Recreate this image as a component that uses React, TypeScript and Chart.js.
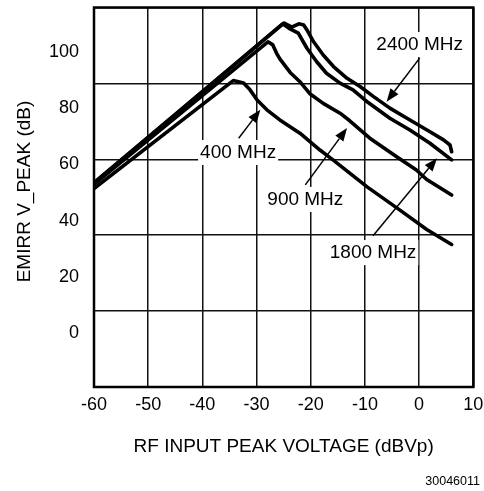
import React, { useEffect, useRef } from 'react';
import { Chart, registerables } from 'chart.js';

Chart.register(...registerables);

const FONT = "'Liberation Sans', Arial, Helvetica, sans-serif";

// ---- axes ----
const xMin = -60;
const xMax = 10;
const xStep = 10;
const yMin = -19.2;
const yMax = 115.8;
const yTickValues = [0, 20, 40, 60, 80, 100];
const gridDivisions = 5;

const xTitle = 'RF INPUT PEAK VOLTAGE (dBVp)';
const yTitle = 'EMIRR V_PEAK (dB)';
const footnote = '30046011';

// ---- series ----
const s400X = [-60, -34.3, -32.4, -31.2, -29.9, -28.1, -25.7, -22.0, -18.3, -15.9, -9.6, -3.6, 1.4, 6.0];
const s400Y = [51.4, 89.8, 88.9, 86.5, 82.9, 79.4, 75.8, 71.1, 65.1, 61.6, 52.0, 43.8, 36.8, 31.5];

const s900X = [-60, -27.9, -27.0, -26.3, -25.7, -23.8, -22.0, -20.1, -17.7, -14.6, -12.8, -9.1, -3.6, -0.5, 1.4, 6.0];
const s900Y = [52.9, 103.6, 102.5, 99.5, 97.5, 92.7, 89.4, 85.0, 81.7, 78.2, 75.5, 69.3, 62.0, 58.0, 54.6, 49.1];

const s1800X = [-60, -25.2, -24.0, -22.3, -20.7, -18.9, -17.1, -14.6, -12.2, -9.4, -5.4, -1.7, 2.0, 6.0];
const s1800Y = [53.2, 110.0, 108.4, 106.7, 101.3, 96.5, 92.4, 88.9, 86.5, 82.0, 76.4, 72.2, 67.5, 61.6];

const s2400X = [-60, -24.9, -23.5, -22.2, -21.3, -20.7, -19.5, -17.7, -15.8, -13.3, -10.9, -8.4, -5.4, -1.7, 2.0, 4.5, 5.7, 6.0];
const s2400Y = [53.5, 110.3, 108.8, 110.0, 109.6, 107.8, 103.7, 98.9, 94.8, 90.6, 87.7, 84.1, 80.0, 75.8, 71.6, 68.7, 66.9, 64.5];

// ---- annotations (data units) ----
const annText = ['2400 MHz', '400 MHz', '900 MHz', '1800 MHz'];
const annTextX = [0.1, -33.4, -21.0, -8.5];
const annTextY = [102.8, 64.4, 47.7, 28.8];
const arrowTailX = [0.1, -33.3, -21.0, -8.5];
const arrowTailY = [97.8, 69.3, 52.7, 34.6];
const arrowHeadX = [-6.0, -29.3, -13.3, 3.3];
const arrowHeadY = [82.3, 79.4, 72.9, 62.2];

const toPoints = (xs: number[], ys: number[]) => xs.map((x, i) => ({ x, y: ys[i] }));

const overlayPlugin = {
  id: 'overlay',
  afterDatasetsDraw(chart: any) {
    const { ctx, chartArea: a, scales } = chart;
    const sx = scales.x;
    const sy = scales.y;
    ctx.save();
    // frame
    ctx.strokeStyle = '#000';
    ctx.lineWidth = 2.5;
    ctx.strokeRect(a.left, a.top, a.right - a.left, a.bottom - a.top);

    // arrows
    ctx.lineWidth = 1.5;
    ctx.fillStyle = '#000';
    for (let i = 0; i < annText.length; i++) {
      const x0 = sx.getPixelForValue(arrowTailX[i]);
      const y0 = sy.getPixelForValue(arrowTailY[i]);
      const x1 = sx.getPixelForValue(arrowHeadX[i]);
      const y1 = sy.getPixelForValue(arrowHeadY[i]);
      const ang = Math.atan2(y1 - y0, x1 - x0);
      const len = 13;
      const hw = 5;
      const bx = x1 - len * Math.cos(ang);
      const by = y1 - len * Math.sin(ang);
      ctx.beginPath();
      ctx.moveTo(x0, y0);
      ctx.lineTo(bx, by);
      ctx.stroke();
      ctx.beginPath();
      ctx.moveTo(x1, y1);
      ctx.lineTo(bx + hw * Math.sin(ang), by - hw * Math.cos(ang));
      ctx.lineTo(bx - hw * Math.sin(ang), by + hw * Math.cos(ang));
      ctx.closePath();
      ctx.fill();
    }

    // labels with white backing
    ctx.font = `19px ${FONT}`;
    ctx.textAlign = 'center';
    ctx.textBaseline = 'middle';
    for (let i = 0; i < annText.length; i++) {
      const cx = sx.getPixelForValue(annTextX[i]);
      const cy = sy.getPixelForValue(annTextY[i]);
      const w = ctx.measureText(annText[i]).width;
      ctx.fillStyle = '#fff';
      ctx.fillRect(cx - w / 2 - 2, cy - 12, w + 4, 25);
      ctx.fillStyle = '#000';
      ctx.fillText(annText[i], cx, cy + 1);
    }

    // y title
    ctx.save();
    ctx.translate(25, 191.5);
    ctx.rotate(-Math.PI / 2);
    ctx.fillText(yTitle, 0, 0);
    ctx.restore();

    // footnote
    ctx.font = `12.5px ${FONT}`;
    ctx.textAlign = 'right';
    ctx.fillText(footnote, 480, 482);
    ctx.restore();
  },
};

export default function App() {
  const ref = useRef<HTMLCanvasElement | null>(null);

  useEffect(() => {
    if (!ref.current) return;
    const lineDs = (label: string, xs: number[], ys: number[]) => ({
      label,
      data: toPoints(xs, ys),
      borderColor: '#000',
      backgroundColor: '#000',
      borderWidth: 3.6,
      pointRadius: 0,
      fill: false,
      tension: 0,
      borderJoinStyle: 'round' as const,
      borderCapStyle: 'round' as const,
      xAxisID: 'x',
      yAxisID: 'y',
    });

    const chart = new Chart(ref.current, {
      type: 'line',
      data: {
        datasets: [
          lineDs('400 MHz', s400X, s400Y),
          lineDs('900 MHz', s900X, s900Y),
          lineDs('1800 MHz', s1800X, s1800Y),
          lineDs('2400 MHz', s2400X, s2400Y),
        ],
      },
      options: {
        animation: false,
        responsive: false,
        devicePixelRatio: 1,
        layout: { padding: { top: 7.5, right: 10.7, left: 0, bottom: 0 } },
        plugins: {
          legend: { display: false },
          tooltip: { enabled: false },
        },
        scales: {
          x: {
            type: 'linear',
            min: xMin,
            max: xMax,
            ticks: {
              stepSize: xStep,
              color: '#000',
              font: { family: FONT, size: 18 },
              padding: 7,
              maxRotation: 0,
              autoSkip: false,
            },
            grid: { color: '#111', lineWidth: 1.5, drawTicks: false },
            border: { display: false },
            title: {
              display: true,
              text: xTitle,
              color: '#000',
              font: { family: FONT, size: 19 },
              padding: { top: 0, bottom: 32.6 },
            },
            afterFit: (s: any) => {
              s.height = 104;
              s.paddingLeft = 0;
              s.paddingRight = 0;
            },
          },
          y: {
            type: 'linear',
            position: 'left',
            min: yMin,
            max: yMax,
            afterBuildTicks: (s: any) => {
              s.ticks = yTickValues.map((v) => ({ value: v }));
            },
            ticks: {
              color: '#000',
              font: { family: FONT, size: 18 },
              padding: 7,
            },
            grid: { display: false },
            border: { display: false },
            afterFit: (s: any) => {
              s.width = 94;
              s.paddingTop = 0;
              s.paddingBottom = 0;
            },
          },
          yGrid: {
            type: 'linear',
            position: 'left',
            min: 0,
            max: gridDivisions,
            ticks: { display: false, stepSize: 1 },
            grid: { color: '#111', lineWidth: 1.5, drawTicks: false },
            border: { display: false },
            afterFit: (s: any) => {
              s.width = 0;
              s.paddingTop = 0;
              s.paddingBottom = 0;
            },
          },
        },
      },
      plugins: [overlayPlugin],
    } as any);

    return () => chart.destroy();
  }, []);

  return (
    <div style={{ position: 'absolute', left: 0, top: 0, width: 484, height: 491, background: '#fff' }}>
      <canvas ref={ref} width={484} height={491} style={{ display: 'block' }} />
    </div>
  );
}
